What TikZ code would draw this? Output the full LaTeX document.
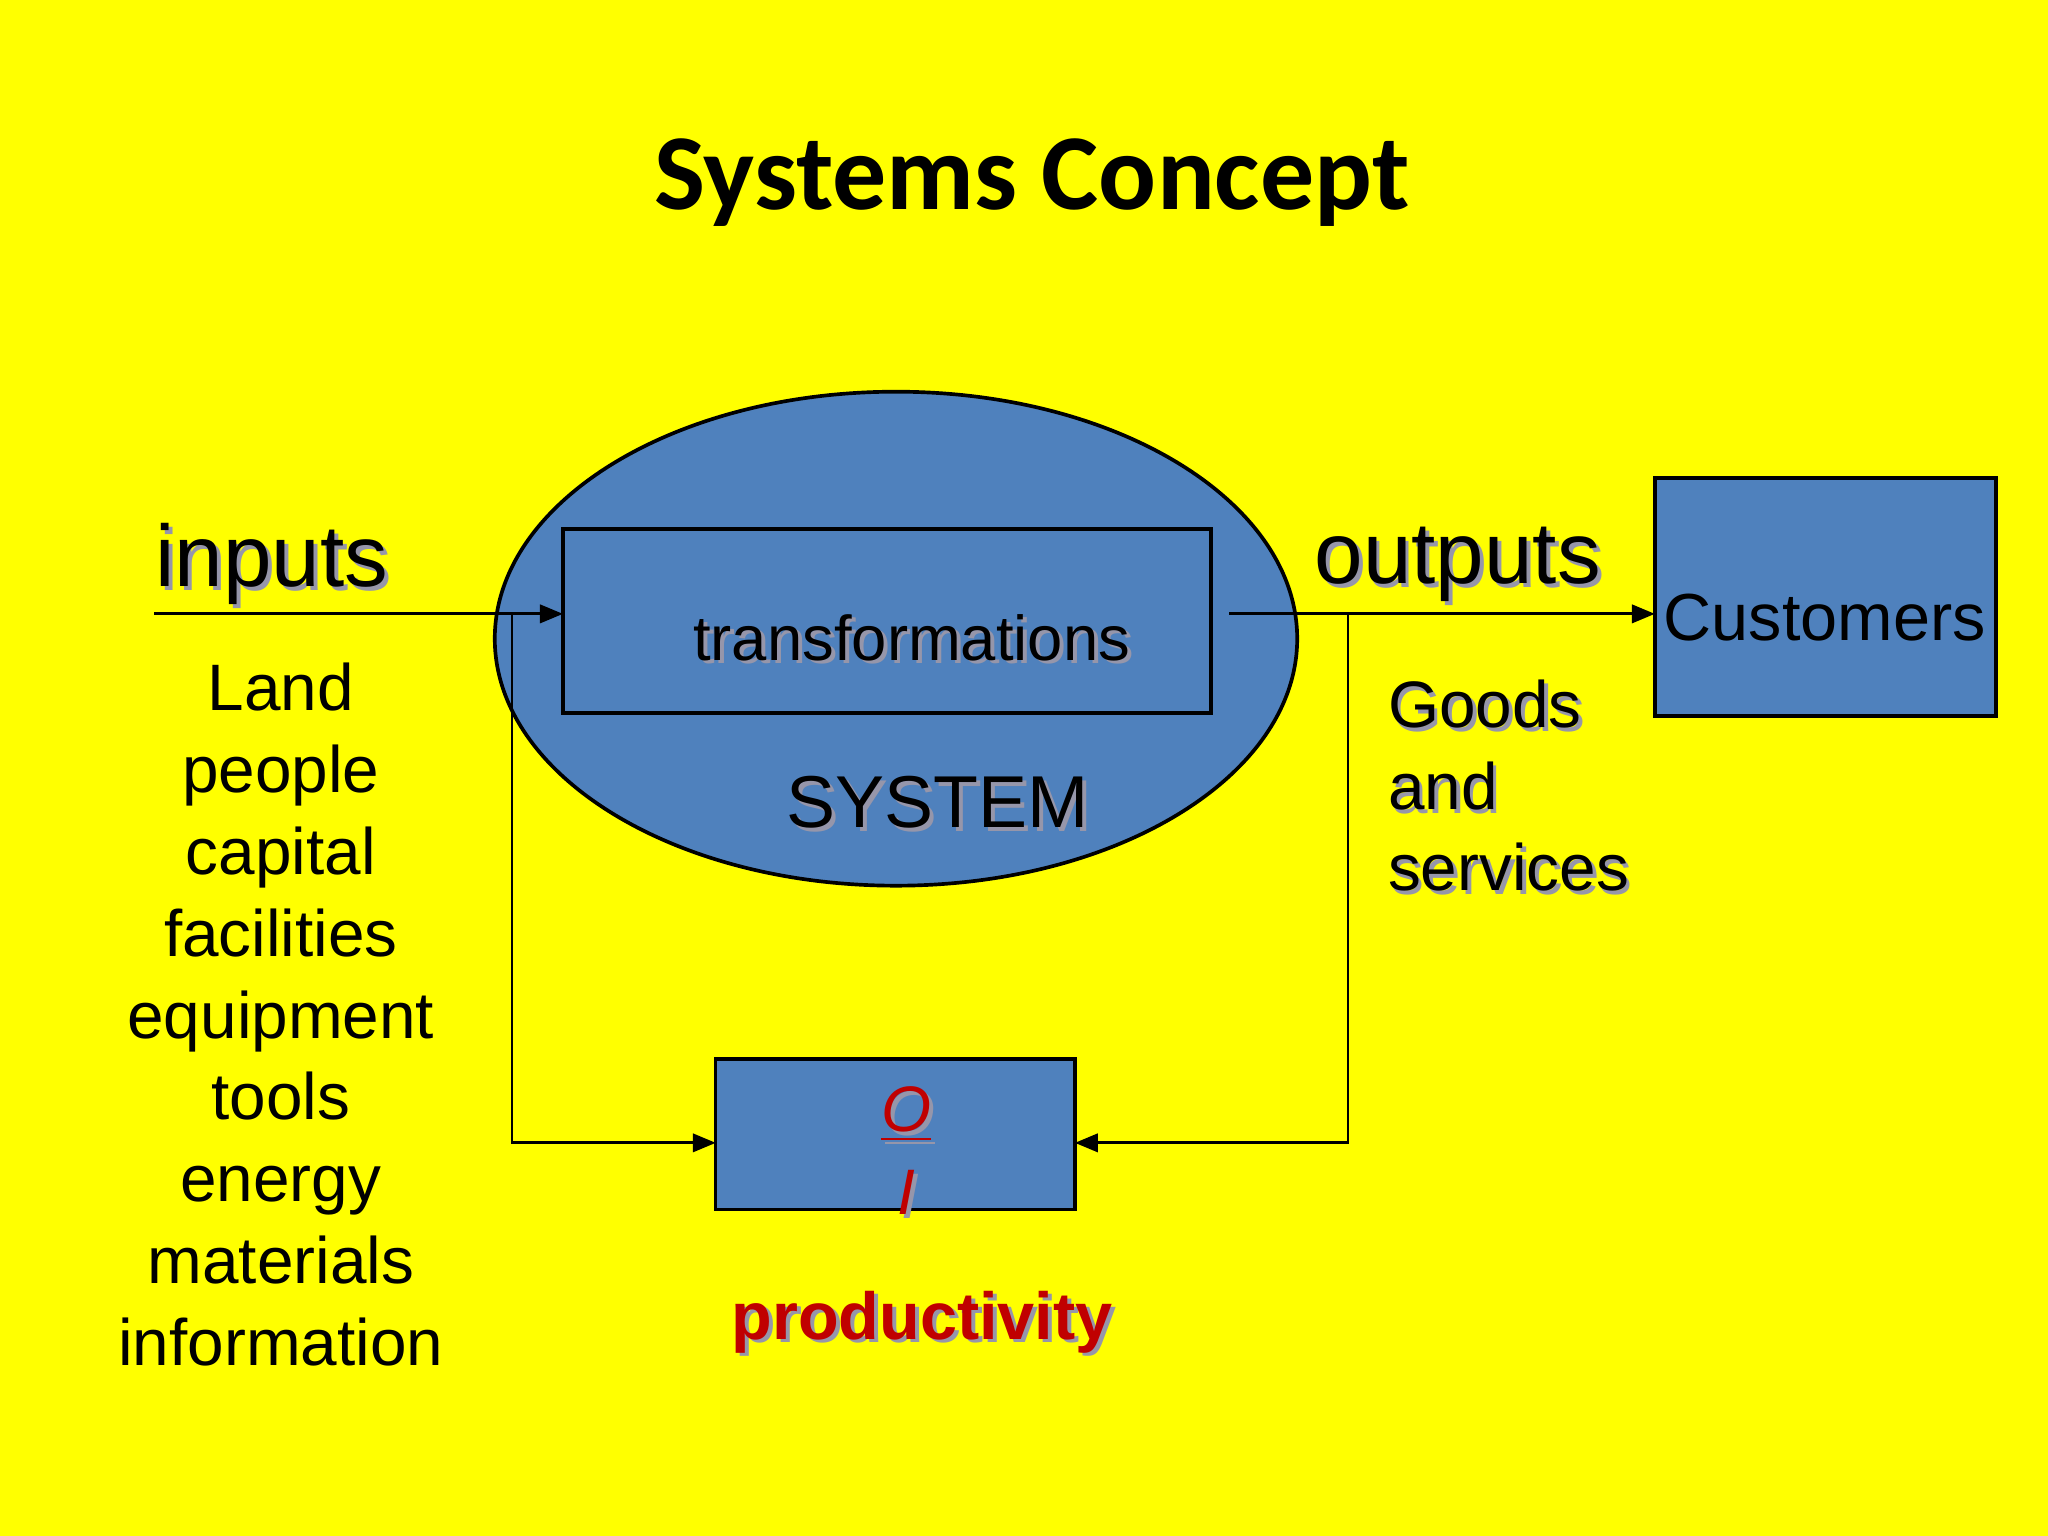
\documentclass[tikz,border=0pt]{standalone}
\usepackage{fontspec}
\setmainfont{Liberation Sans}
\newfontfamily\titlefont{Carlito}
\usetikzlibrary{arrows.meta,shapes.geometric,calc}
\definecolor{bg}{RGB}{255,255,0}
\definecolor{blu}{RGB}{79,129,189}
\definecolor{dred}{RGB}{192,0,0}
\definecolor{shd}{RGB}{150,150,170}
\newcommand{\shtxt}[4]{% name, pos, font, text
  \node[shd,font=#3] at ($(#2)+(3,3)$) {#4};
  \node[font=#3] (#1) at (#2) {#4};}
\begin{document}
\begin{tikzpicture}[x=0.01cm,y=-0.01cm,
  ln/.style={line width=0.6pt},
  arr/.style={ln,-{Triangle[length=5pt,width=4pt]}},
  box/.style={draw=black,line width=0.8pt,fill=blu,inner sep=0}]
\fill[bg] (0,0) rectangle (1568,1176);
\useasboundingbox (0,0) rectangle (1568,1176);
\node[font=\titlefont\bfseries\fontsize{23.5}{28}\selectfont] (title) at (790,140) {Systems Concept};
\node[ellipse,box,minimum width=6.14cm,minimum height=3.78cm] (sys) at (686,489) {};
\node[box,minimum width=4.96cm,minimum height=1.41cm] (trb) at (679,475.5) {};
\coordinate (trL) at (431,470);
\shtxt{tr}{698,488}{\fontsize{13.8}{16}\selectfont}{transformations}
\shtxt{sy}{718,614}{\fontsize{16}{19}\selectfont}{SYSTEM}
\shtxt{in}{208,432}{\fontsize{19}{22}\selectfont}{inputs}
\shtxt{out}{1116,432}{\fontsize{19}{22}\selectfont}{outputs}
\node[box,minimum width=2.61cm,minimum height=1.82cm] (cu) at (1397.5,457) {};
\node[font=\fontsize{14.5}{17}\selectfont] (cut) at (1397,473) {Customers};
\coordinate (a0) at (118,470);
\coordinate (a1) at (392,470);
\coordinate (b0) at (941,470);
\coordinate (b1) at (1032,470);
\coordinate (cuL) at (1267,470);
\draw[arr] (a0) -- (trL);
\draw[arr] (b0) -- (cuL);
\node[box,minimum width=2.75cm,minimum height=1.15cm] (oi) at (685.5,868.5) {};
\coordinate (oiL) at (548,875);
\coordinate (oiR) at (823,875);
\draw[arr] (a1) |- (oiL);
\draw[arr] (b1) |- (oiR);
\foreach \t [count=\i from 0] in {Land,people,capital,facilities,equipment,tools,energy,materials,information}
  \node[anchor=base,font=\fontsize{14.3}{17}\selectfont] (l\i) at (215,544+62.7*\i) {\t};
\foreach \t [count=\i from 0] in {Goods,and,services}{
  \node[shd,anchor=base west,inner sep=0,font=\fontsize{14.3}{17}\selectfont] at (1062+3,557+62.5*\i+3) {\t};
  \node[anchor=base west,inner sep=0,font=\fontsize{14.3}{17}\selectfont] (g\i) at (1062,557+62.5*\i) {\t};}
\shtxt{o}{694,853}{\color{dred}\itshape\fontsize{14}{16}\selectfont}{\underline{O}}
\shtxt{i}{694,913}{\color{dred}\itshape\fontsize{14}{16}\selectfont}{I}
\shtxt{pr}{706,1012}{\color{dred}\bfseries\fontsize{14.5}{17}\selectfont}{productivity}
\end{tikzpicture}
\end{document}
